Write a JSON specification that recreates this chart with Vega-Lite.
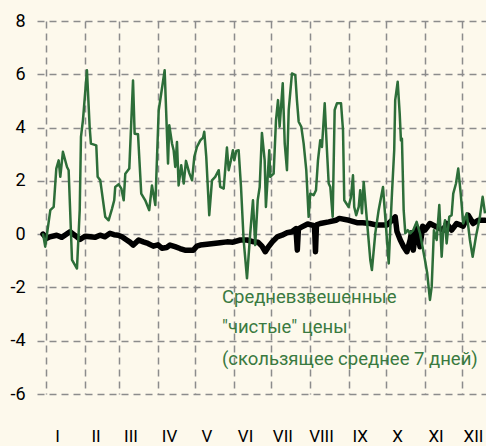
{
  "$schema": "https://vega.github.io/schema/vega-lite/v6.json",
  "width": 449,
  "height": 373,
  "autosize": {"type": "none"},
  "padding": {"left": 37, "top": 21, "right": 0, "bottom": 52},
  "background": "#fdf9ec",
  "config": {"view": {"stroke": null}, "font": "Roboto"},
  "datasets": {
    "green": [
      {"day": -2.4, "value": 0.03}, {"day": -0.6, "value": -0.47}, {"day": 3.5, "value": 0.9}, {"day": 6.2, "value": 1.02},
      {"day": 8.3, "value": 2.46}, {"day": 10.2, "value": 2.77}, {"day": 11.5, "value": 2.15}, {"day": 13.6, "value": 3.09},
      {"day": 16.9, "value": 2.52}, {"day": 18.2, "value": 2.4}, {"day": 20.9, "value": -0.97}, {"day": 24.9, "value": -1.29},
      {"day": 27.1, "value": 0.9}, {"day": 28.1, "value": 3.65}, {"day": 29.7, "value": 4.28}, {"day": 32.9, "value": 6.15},
      {"day": 35.1, "value": 4.0}, {"day": 36.1, "value": 3.4}, {"day": 40.4, "value": 3.33}, {"day": 41.5, "value": 2.15},
      {"day": 43.6, "value": 2.02}, {"day": 47.6, "value": 0.65}, {"day": 50.3, "value": 0.52}, {"day": 53.0, "value": 0.95},
      {"day": 54.8, "value": 1.27}, {"day": 55.6, "value": 1.77}, {"day": 58.4, "value": 1.87}, {"day": 60.5, "value": 1.71},
      {"day": 62.4, "value": 1.27}, {"day": 63.7, "value": 2.27}, {"day": 66.9, "value": 2.46}, {"day": 69.9, "value": 5.77},
      {"day": 71.2, "value": 3.77}, {"day": 73.9, "value": 3.75}, {"day": 76.5, "value": 1.52}, {"day": 79.7, "value": 1.27},
      {"day": 82.9, "value": 0.9}, {"day": 85.1, "value": 1.83}, {"day": 87.8, "value": 1.09}, {"day": 90.5, "value": 4.64},
      {"day": 95.3, "value": 6.15}, {"day": 98.0, "value": 2.65}, {"day": 99.0, "value": 4.09}, {"day": 101.2, "value": 3.4},
      {"day": 102.5, "value": 3.15}, {"day": 103.8, "value": 2.52}, {"day": 105.2, "value": 3.46}, {"day": 106.5, "value": 1.83},
      {"day": 108.6, "value": 2.59}, {"day": 110.6, "value": 1.9}, {"day": 112.4, "value": 2.75}, {"day": 115.0, "value": 2.3},
      {"day": 117.3, "value": 2.02}, {"day": 119.1, "value": 2.9}, {"day": 121.2, "value": 3.27}, {"day": 123.9, "value": 3.52},
      {"day": 126.1, "value": 3.62}, {"day": 127.1, "value": 3.84}, {"day": 128.7, "value": 2.9}, {"day": 131.1, "value": 0.71},
      {"day": 133.3, "value": 2.02}, {"day": 135.9, "value": 2.15}, {"day": 138.7, "value": 2.4}, {"day": 139.9, "value": 1.77},
      {"day": 142.7, "value": 1.71}, {"day": 145.3, "value": 3.25}, {"day": 146.7, "value": 2.4}, {"day": 148.5, "value": 2.77},
      {"day": 150.1, "value": 3.15}, {"day": 151.2, "value": 2.77}, {"day": 152.8, "value": 3.12}, {"day": 154.7, "value": 3.15},
      {"day": 156.6, "value": 1.77}, {"day": 158.7, "value": -0.22}, {"day": 161.4, "value": -1.66}, {"day": 164.0, "value": 0.03},
      {"day": 166.2, "value": 1.27}, {"day": 168.0, "value": -0.41}, {"day": 170.0, "value": 1.27}, {"day": 171.6, "value": 1.77},
      {"day": 173.4, "value": 3.8}, {"day": 175.6, "value": 2.77}, {"day": 176.6, "value": 1.02}, {"day": 179.3, "value": 3.15},
      {"day": 180.1, "value": 2.15}, {"day": 182.8, "value": 2.27}, {"day": 184.7, "value": 4.28}, {"day": 186.3, "value": 5.03},
      {"day": 187.6, "value": 4.03}, {"day": 190.1, "value": 5.66}, {"day": 191.7, "value": 3.4}, {"day": 193.5, "value": 2.4},
      {"day": 194.9, "value": 4.66}, {"day": 196.1, "value": 5.29}, {"day": 197.5, "value": 6.03}, {"day": 200.2, "value": 5.97},
      {"day": 201.5, "value": 5.03}, {"day": 202.9, "value": 4.22}, {"day": 205.0, "value": 4.03}, {"day": 206.9, "value": 3.4},
      {"day": 209.0, "value": 2.4}, {"day": 210.9, "value": 0.65}, {"day": 212.2, "value": 1.52}, {"day": 214.9, "value": 1.46},
      {"day": 216.8, "value": 1.65}, {"day": 218.4, "value": 2.77}, {"day": 220.2, "value": 3.52}, {"day": 221.6, "value": 3.27},
      {"day": 223.8, "value": 4.91}, {"day": 225.6, "value": 3.15}, {"day": 227.0, "value": 1.9}, {"day": 228.3, "value": 1.77},
      {"day": 230.2, "value": 0.65}, {"day": 231.8, "value": 4.66}, {"day": 233.6, "value": 4.91}, {"day": 236.9, "value": 4.91},
      {"day": 238.5, "value": 3.9}, {"day": 239.5, "value": 1.27}, {"day": 243.0, "value": 1.02}, {"day": 244.9, "value": 1.4},
      {"day": 246.5, "value": 2.21}, {"day": 247.5, "value": 1.02}, {"day": 249.1, "value": 0.71}, {"day": 251.1, "value": 1.02},
      {"day": 252.3, "value": 1.65}, {"day": 253.7, "value": 0.78}, {"day": 255.1, "value": 1.96}, {"day": 257.7, "value": 0.52},
      {"day": 260.4, "value": -0.97}, {"day": 261.7, "value": -1.35}, {"day": 264.4, "value": 0.03}, {"day": 267.1, "value": 0.9},
      {"day": 270.6, "value": 1.77}, {"day": 272.4, "value": 0.65}, {"day": 275.2, "value": -1.1}, {"day": 276.4, "value": 0.15},
      {"day": 277.8, "value": 1.52}, {"day": 279.6, "value": 3.15}, {"day": 280.4, "value": 5.03}, {"day": 282.4, "value": 5.72},
      {"day": 284.0, "value": 4.53}, {"day": 285.0, "value": 3.52}, {"day": 285.8, "value": 3.59}, {"day": 287.2, "value": 0.9},
      {"day": 288.5, "value": 0.03}, {"day": 290.4, "value": 0.15}, {"day": 292.5, "value": 0.03}, {"day": 294.9, "value": 0.15},
      {"day": 297.6, "value": 0.46}, {"day": 300.3, "value": 0.03}, {"day": 304.3, "value": -0.97}, {"day": 306.1, "value": -1.47},
      {"day": 308.3, "value": -2.47}, {"day": 309.7, "value": -1.97}, {"day": 311.5, "value": 0.15}, {"day": 313.7, "value": -0.22},
      {"day": 315.8, "value": 1.09}, {"day": 317.7, "value": -0.85}, {"day": 319.0, "value": 0.15}, {"day": 320.4, "value": 0.52},
      {"day": 321.7, "value": -0.35}, {"day": 323.8, "value": 0.65}, {"day": 325.7, "value": 0.71}, {"day": 327.0, "value": 1.52},
      {"day": 329.2, "value": 1.9}, {"day": 331.0, "value": 2.46}, {"day": 333.0, "value": 1.52}, {"day": 335.0, "value": 0.4},
      {"day": 337.8, "value": 0.78}, {"day": 340.4, "value": -0.22}, {"day": 342.6, "value": -0.85}, {"day": 345.2, "value": -0.1},
      {"day": 348.4, "value": 0.65}, {"day": 350.6, "value": 1.4}, {"day": 352.5, "value": 0.78}
    ],
    "black": [
      {"day": -2.4, "value": 0.0}, {"day": 0.6, "value": -0.16}, {"day": 3.2, "value": -0.1}, {"day": 8.6, "value": -0.04},
      {"day": 12.8, "value": -0.12}, {"day": 19.3, "value": 0.09}, {"day": 23.3, "value": -0.05}, {"day": 27.3, "value": -0.2},
      {"day": 31.3, "value": -0.08}, {"day": 35.3, "value": -0.1}, {"day": 39.3, "value": -0.12}, {"day": 43.4, "value": -0.04},
      {"day": 47.4, "value": -0.1}, {"day": 51.4, "value": 0.03}, {"day": 54.6, "value": -0.02}, {"day": 58.0, "value": -0.04},
      {"day": 61.0, "value": -0.1}, {"day": 64.8, "value": -0.22}, {"day": 67.4, "value": -0.3}, {"day": 70.1, "value": -0.41},
      {"day": 74.4, "value": -0.22}, {"day": 78.1, "value": -0.29}, {"day": 81.9, "value": -0.35}, {"day": 86.2, "value": -0.45},
      {"day": 89.9, "value": -0.4}, {"day": 93.1, "value": -0.53}, {"day": 96.9, "value": -0.5}, {"day": 99.6, "value": -0.41},
      {"day": 103.6, "value": -0.47}, {"day": 107.6, "value": -0.54}, {"day": 111.6, "value": -0.6}, {"day": 114.8, "value": -0.6},
      {"day": 118.3, "value": -0.6}, {"day": 121.2, "value": -0.45}, {"day": 123.9, "value": -0.41}, {"day": 129.3, "value": -0.38},
      {"day": 134.6, "value": -0.35}, {"day": 139.7, "value": -0.32}, {"day": 145.3, "value": -0.29}, {"day": 150.1, "value": -0.3},
      {"day": 156.0, "value": -0.22}, {"day": 161.4, "value": -0.22}, {"day": 166.8, "value": -0.29}, {"day": 170.2, "value": -0.3},
      {"day": 173.4, "value": -0.45}, {"day": 176.1, "value": -0.66}, {"day": 178.3, "value": -0.5}, {"day": 181.7, "value": -0.29},
      {"day": 185.7, "value": -0.1}, {"day": 189.5, "value": -0.04}, {"day": 193.5, "value": 0.05}, {"day": 197.5, "value": 0.09},
      {"day": 200.7, "value": 0.21}, {"day": 201.8, "value": -0.6}, {"day": 202.7, "value": 0.2}, {"day": 205.5, "value": 0.27},
      {"day": 210.1, "value": 0.38}, {"day": 213.6, "value": 0.34}, {"day": 215.6, "value": 0.3}, {"day": 216.4, "value": -0.66},
      {"day": 217.2, "value": 0.35}, {"day": 220.2, "value": 0.4}, {"day": 227.0, "value": 0.46}, {"day": 232.8, "value": 0.52},
      {"day": 235.5, "value": 0.59}, {"day": 243.3, "value": 0.52}, {"day": 249.7, "value": 0.43}, {"day": 254.3, "value": 0.43},
      {"day": 260.1, "value": 0.4}, {"day": 265.8, "value": 0.34}, {"day": 273.8, "value": 0.34}, {"day": 277.8, "value": 0.52},
      {"day": 280.4, "value": 0.65}, {"day": 281.8, "value": 0.1}, {"day": 284.5, "value": -0.22}, {"day": 287.2, "value": -0.47},
      {"day": 289.8, "value": -0.66}, {"day": 292.5, "value": -0.2}, {"day": 293.4, "value": 0.05}, {"day": 294.9, "value": -0.6},
      {"day": 297.6, "value": 0.27}, {"day": 300.3, "value": -0.47}, {"day": 302.5, "value": 0.3}, {"day": 304.3, "value": 0.15},
      {"day": 308.3, "value": 0.4}, {"day": 313.7, "value": 0.27}, {"day": 319.0, "value": 0.15}, {"day": 321.7, "value": 0.4},
      {"day": 325.7, "value": 0.15}, {"day": 329.7, "value": 0.4}, {"day": 335.0, "value": 0.3}, {"day": 339.0, "value": 0.71},
      {"day": 343.0, "value": 0.4}, {"day": 347.0, "value": 0.52}, {"day": 352.5, "value": 0.52}
    ],
    "labels": [
      {"day": 141.3, "value": -2.37, "text": "Средневзвешенные"},
      {"day": 141.3, "value": -3.5, "text": "\"чистые\" цены"},
      {"day": 141.3, "value": -4.7, "text": "(скользящее среднее 7 дней)"}
    ]
  },
  "layer": [
    {
      "data": {"name": "black"},
      "mark": {"type": "rule", "color": "#000000", "strokeWidth": 1},
      "encoding": {
        "x": {"field": "day", "type": "quantitative", "scale": {"domain": [-7.2, 353.3], "nice": false, "zero": false},
          "axis": {"title": null, "values": [0, 31, 59, 90, 120, 151, 181, 212, 243, 273, 304, 334],
            "labelExpr": "['I','II','III','IV','V','VI','VII','VIII','IX','X','XI','XII'][indexof([0,31,59,90,120,151,181,212,243,273,304,334], datum.value)]",
            "labelOffset": 11, "labelPadding": 34, "labelBaseline": "top", "labelFontSize": 17, "labelColor": "#000000", "labelFont": "Roboto",
            "ticks": false, "domain": false, "grid": true, "gridDash": [7, 5], "gridColor": "#8c8c8c", "gridWidth": 1.5}},
        "y": {"datum": 0, "type": "quantitative", "scale": {"domain": [-6, 8], "nice": false},
          "axis": {"title": null, "values": [-6, -4, -2, 0, 2, 4, 6, 8], "labelExpr": "'' + datum.value", "labelPadding": 12, "labelFontSize": 18, "labelColor": "#000000", "labelFont": "Roboto",
            "ticks": false, "domain": false, "grid": true, "gridDash": [7, 5], "gridColor": "#8c8c8c", "gridWidth": 1.5}}
      }
    },
    {
      "data": {"name": "black"},
      "mark": {"type": "line", "color": "#000000", "strokeWidth": 5.5, "strokeJoin": "round", "strokeCap": "round"},
      "encoding": {
        "x": {"field": "day", "type": "quantitative"},
        "y": {"field": "value", "type": "quantitative"}
      }
    },
    {
      "data": {"name": "green"},
      "mark": {"type": "line", "color": "#2d6e39", "strokeWidth": 2.5, "strokeJoin": "round"},
      "encoding": {
        "x": {"field": "day", "type": "quantitative"},
        "y": {"field": "value", "type": "quantitative"}
      }
    },
    {
      "data": {"name": "labels"},
      "mark": {"type": "text", "align": "left", "baseline": "middle", "fontSize": 18.5, "font": "Roboto", "color": "#3a7a40"},
      "encoding": {
        "x": {"field": "day", "type": "quantitative"},
        "y": {"field": "value", "type": "quantitative"},
        "text": {"field": "text", "type": "nominal"}
      }
    }
  ]
}
